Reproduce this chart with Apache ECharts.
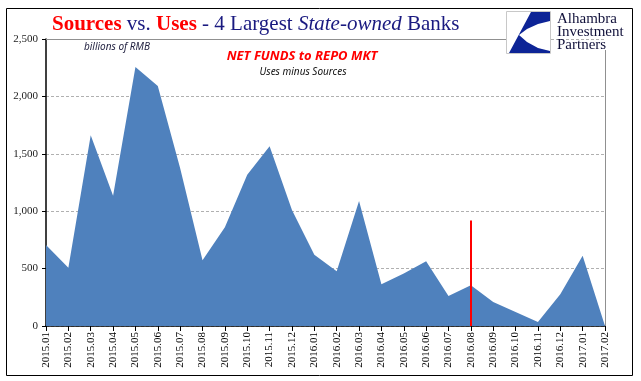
<!DOCTYPE html>
<html>
<head>
<meta charset="utf-8">
<script src="https://cdn.jsdelivr.net/npm/echarts@6/dist/echarts.min.js"></script>
<style>
html,body{margin:0;padding:0;background:#fff;}
#chart{width:641px;height:381px;}
</style>
</head>
<body>
<div id="chart"></div>
<script>
const categories = ['2015.01','2015.02','2015.03','2015.04','2015.05','2015.06','2015.07','2015.08','2015.09','2015.10','2015.11','2015.12',
  '2016.01','2016.02','2016.03','2016.04','2016.05','2016.06','2016.07','2016.08','2016.09','2016.10','2016.11','2016.12',
  '2017.01','2017.02'];
const netFunds = [705,508,1662,1135,2256,2091,1375,572,860,1318,1565,1010,
  620,477,1088,364,457,565,262,355,210,122,35,277,
  611,0];
const markerCategory = '2016.08';
const markerHeight = 920;
const yTicks = [0,500,1000,1500,2000,2500];

const chart = echarts.init(document.getElementById('chart'), null, {renderer:'canvas'});
const navy = '#1a1a80';
const red = '#ff0000';
const serif = '"Liberation Serif", "DejaVu Serif", serif';

chart.setOption({
  animation:false,
  backgroundColor:'#fff',
  grid:{left:46, right:36, top:39, bottom:55},
  title:{
    left:47, top:9,
    text:'{r|Sources}{n| vs. }{r|Uses}{n| - 4 Largest }{i|State-owned}{n| Banks}',
    textStyle:{
      fontWeight:'normal',
      rich:{
        r:{fontFamily:serif, fontSize:21, fontWeight:'bold', color:red},
        n:{fontFamily:serif, fontSize:21, fontWeight:'normal', color:navy},
        i:{fontFamily:serif, fontSize:21, fontWeight:'normal', fontStyle:'italic', color:navy}
      }
    }
  },
  xAxis:{
    type:'category',
    data:categories,
    boundaryGap:false,
    axisLine:{lineStyle:{color:'#000', width:1.5}},
    axisTick:{show:true, length:5, alignWithLabel:true, lineStyle:{color:'#000'}},
    axisLabel:{rotate:90, interval:0, margin:6, fontFamily:serif, fontSize:11, color:'#000'}
  },
  yAxis:{
    type:'value',
    min:yTicks[0], max:yTicks[yTicks.length-1], interval:500,
    axisLine:{show:true, lineStyle:{color:'#000', width:1.5}},
    axisTick:{show:true, length:4, lineStyle:{color:'#000'}},
    axisLabel:{margin:8, fontFamily:serif, fontSize:11, color:'#222',
      formatter:function(v){return v.toLocaleString('en-US');}},
    splitLine:{show:true, lineStyle:{color:'#b0b0b0', type:[3,2], width:1}}
  },
  series:[{
    type:'line',
    data:netFunds,
    symbol:'none',
    lineStyle:{width:0},
    areaStyle:{color:'#4f81bd', opacity:1},
    markLine:{
      silent:true,
      symbol:['none','none'],
      label:{show:false},
      lineStyle:{color:red, width:2, type:'solid'},
      data:[[{coord:[markerCategory,0]},{coord:[markerCategory,markerHeight]}]]
    },
    z:3
  }],
  graphic:[
    {type:'line', shape:{x1:46, y1:39.5, x2:506, y2:39.5}, style:{stroke:'#909090', lineWidth:1}, z:10},
    {type:'line', shape:{x1:605.5, y1:50, x2:605.5, y2:326}, style:{stroke:'#909090', lineWidth:1}, z:10},
    {type:'rect', shape:{x:6.5, y:8.5, width:626, height:367}, style:{fill:'none', stroke:'#000', lineWidth:1}, z:10},
    {type:'rect', shape:{x:506.5, y:11.5, width:44, height:42}, style:{fill:'#fff', stroke:'#c8c8c8', lineWidth:1}, z:10},
    {type:'polygon', shape:{points:[[531,12],[550,12],[550,21],[538,24],[527,29],[519,35],[527,42],[538,48],[550,51],[550,53],[509,53]]},
      style:{fill:'#0d2496'}, z:11},
    {type:'text', left:557, top:12, style:{text:'Alhambra\nInvestment\nPartners', font:'15px '+serif, fill:'#10103a', lineHeight:13}, z:11},
    {type:'text', left:84, top:42, style:{text:'billions of RMB', font:'italic 10px "Noto Sans", sans-serif', fill:'#1f1f3f'}, z:11},
    {type:'text', x:302, y:56, style:{text:'NET FUNDS to REPO MKT', font:'italic bold 13px "Noto Sans", sans-serif', fill:red, align:'center', verticalAlign:'middle'}, z:11},
    {type:'text', x:303, y:72, style:{text:'Uses minus Sources', font:'italic 10px "Noto Sans", sans-serif', fill:'#111', align:'center', verticalAlign:'middle'}, z:11}
  ]
});
</script>
</body>
</html>
